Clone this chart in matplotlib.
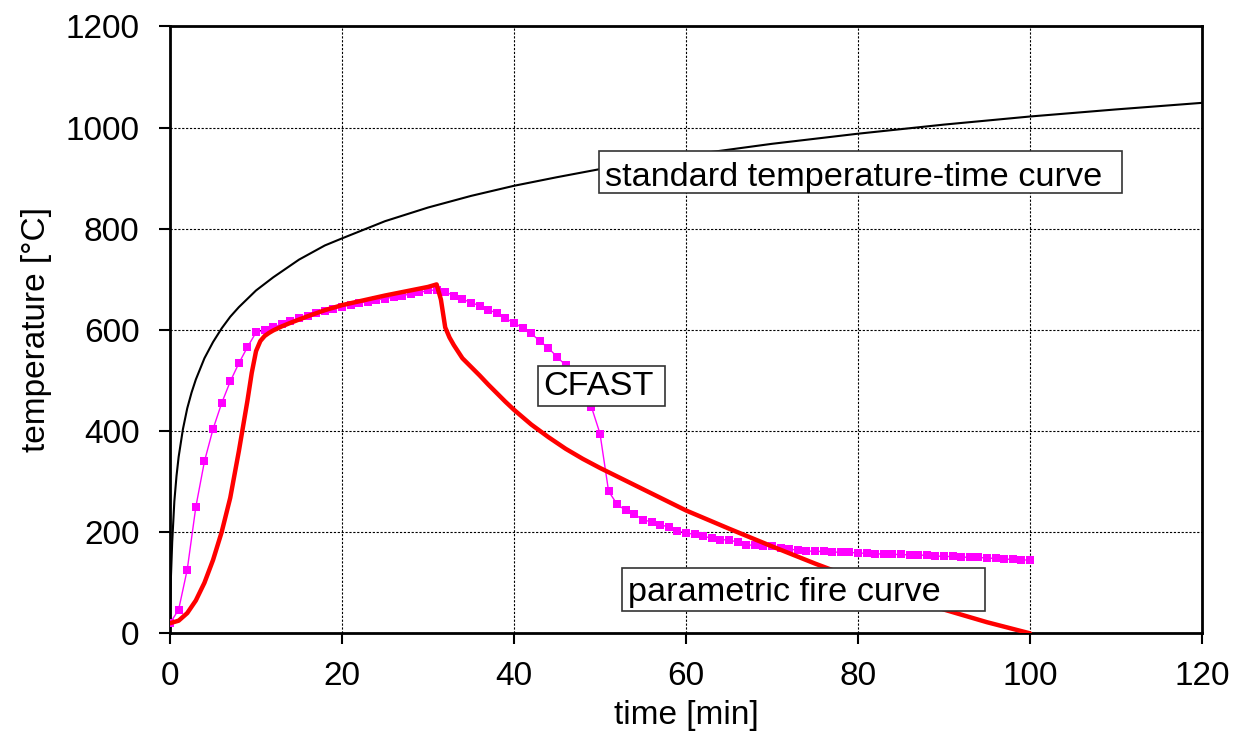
import numpy as np
import matplotlib.pyplot as plt
from matplotlib.patches import Rectangle

plt.rcParams['font.family'] = ['Liberation Sans', 'DejaVu Sans']

# standard temperature-time curve
t_std = [0, 0.1, 0.25, 0.5, 0.75, 1, 1.5, 2, 2.5, 3, 4, 5, 6, 7, 8, 10, 12,
         15, 18, 20, 25, 30, 35, 40, 45, 50, 60, 70, 80, 90, 100, 110, 120]
T_std = [20, 110, 180, 261, 311, 349, 404, 445, 476, 502, 544, 576, 603, 626,
         645, 678, 704, 739, 767, 781, 815, 842, 865, 885, 902, 918, 945, 968,
         988, 1006, 1022, 1036, 1049]

# parametric fire curve
t_par = [0, 1, 2, 3, 4, 5, 6, 7, 8, 9, 9.5, 10, 10.5, 11, 11.5, 12, 13, 14,
         16, 18, 20, 25, 30, 31, 31.5, 32, 32.5, 33, 34, 35, 36, 37, 38, 39,
         40, 42, 44, 46, 48, 50, 55, 60, 65, 70, 75, 80, 85, 90, 95, 100]
T_par = [20, 25, 40, 65, 100, 145, 200, 268, 360, 460, 515, 558, 578, 588,
         594, 599, 607, 614, 627, 639, 649, 668, 685, 690, 660, 605, 585, 570,
         544, 527, 510, 492, 475, 458, 442, 413, 388, 365, 345, 327, 285, 243,
         207, 172, 138, 106, 76, 47, 22, 0]

# CFAST, one value per minute 0..100
t_cf = list(range(0, 101))
T_cf = [20, 47, 126, 250, 340, 404, 455, 498, 534, 566, 595,
        599, 605, 612, 618, 623, 628, 633, 638, 642, 646,
        650, 653, 656, 659, 662, 665, 668, 671, 674, 678,
        679, 675, 668, 661, 654, 648, 640, 633, 623, 614,
        604, 593, 578, 564, 547, 530, 505, 478, 448, 395,
        281, 255, 243, 235, 225, 220, 215, 210, 203, 198,
        196, 192, 188, 185, 185, 180, 175, 174, 172, 172,
        168, 166, 165, 163, 162, 162, 161, 160, 160, 159,
        158, 157, 157, 156, 156, 155, 155, 154, 153, 152,
        152, 151, 150, 150, 149, 148, 147, 146, 145, 145]

fig = plt.figure(figsize=(12.34, 7.36), dpi=100)
ax = fig.add_axes([0.1378, 0.1395, 0.8362, 0.8245])

ax.plot(t_std, T_std, color='black', lw=1.5, zorder=3)
ax.plot(t_cf, T_cf, color='#ff00ff', lw=1, marker='s', ms=5.5,
        markeredgewidth=0, zorder=4)
ax.plot(t_par, T_par, color='#ff0000', lw=3.2, zorder=5,
        solid_joinstyle='round', solid_capstyle='round')

ax.set_xlim(0, 120)
ax.set_ylim(0, 1200)
ax.set_xticks(np.arange(0, 121, 20))
ax.set_yticks(np.arange(0, 1201, 200))
ax.grid(True, color='black', linestyle=(0, (2, 1.5)), lw=0.8)
for s in ax.spines.values():
    s.set_linewidth(2)
ax.tick_params(direction='out', length=8, width=1.5, labelsize=24)
ax.tick_params(axis='x', pad=12)
ax.tick_params(axis='y', pad=14)
ax.set_xlabel('time [min]', fontsize=24, labelpad=6)
ax.set_ylabel('temperature [°C]', fontsize=24, labelpad=10)

# labels
boxes = [
    ('standard temperature-time curve', 49.9, 870, 60.8, 83, 50.6, 901),
    ('CFAST', 42.8, 450, 14.8, 79, 43.4, 488),
    ('parametric fire curve', 52.6, 43.5, 42.2, 85, 53.3, 81),
]
for txt, bx, by, bw, bh, tx, ty in boxes:
    ax.add_patch(Rectangle((bx, by), bw, bh, facecolor='white',
                           edgecolor='#333333', lw=1.2, zorder=6))
    ax.text(tx, ty, txt, fontsize=24.7, va='center', ha='left', zorder=7)

fig.savefig('out.png', dpi=100)
